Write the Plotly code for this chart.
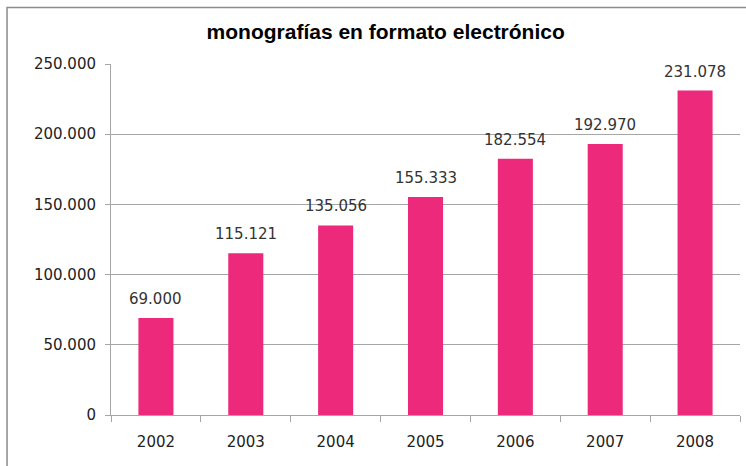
import plotly.graph_objects as go

years = ["2002", "2003", "2004", "2005", "2006", "2007", "2008"]
monografias = [69000, 115121, 135056, 155333, 182554, 192970, 231078]
y_ticks = [0, 50000, 100000, 150000, 200000, 250000]

bar_color = "#EC297B"
axis_gray = "#A6A6A6"
label_font = dict(family="DejaVu Sans", size=15, color="#222222")


def miles(v):
    # thousands separated with a dot
    return f"{v:,.0f}".replace(",", ".")


fig = go.Figure(
    go.Bar(
        x=years,
        y=monografias,
        marker=dict(color=bar_color, line=dict(width=0)),
        width=0.39,
    )
)

# Value labels above each bar (positioned by category index)
for i, v in enumerate(monografias):
    fig.add_annotation(
        x=i, y=v, text=miles(v),
        showarrow=False, yanchor="bottom", yshift=8,
        font=dict(family="DejaVu Sans", size=15, color="#333333"),
    )

# Chart frame (left and top edges)
fig.add_shape(
    type="path",
    xref="paper", yref="paper",
    path="M -0.1653,-0.3 L -0.1653,1.161 L 1.02,1.161",
    line=dict(color="#8C8C8C", width=1.5),
)

fig.update_layout(
    width=746,
    height=466,
    margin=dict(l=111, r=6, t=64, b=51),
    paper_bgcolor="white",
    plot_bgcolor="white",
    separators=",.",
    showlegend=False,
    title=dict(
        text="<b>monografías en formato electrónico</b>",
        x=0.517, xanchor="center",
        y=0.932, yanchor="middle",
        font=dict(family="Liberation Sans", size=21, color="#000000"),
    ),
    xaxis=dict(
        type="category",
        range=[-0.5, len(years) - 0.5],
        showline=True, linecolor=axis_gray, linewidth=1,
        ticks="outside", tickson="boundaries", ticklen=6, tickcolor=axis_gray,
        showgrid=False,
        tickfont=label_font,
        ticklabelstandoff=13,
    ),
    yaxis=dict(
        range=[0, 250000],
        tickvals=y_ticks,
        tickformat=",.0f",
        showline=True, linecolor=axis_gray, linewidth=1,
        ticks="outside", ticklen=5, tickcolor=axis_gray,
        showgrid=True, gridcolor=axis_gray, gridwidth=1,
        zeroline=False,
        tickfont=label_font,
        ticklabelstandoff=6,
    ),
)

fig.write_html("out.html")
